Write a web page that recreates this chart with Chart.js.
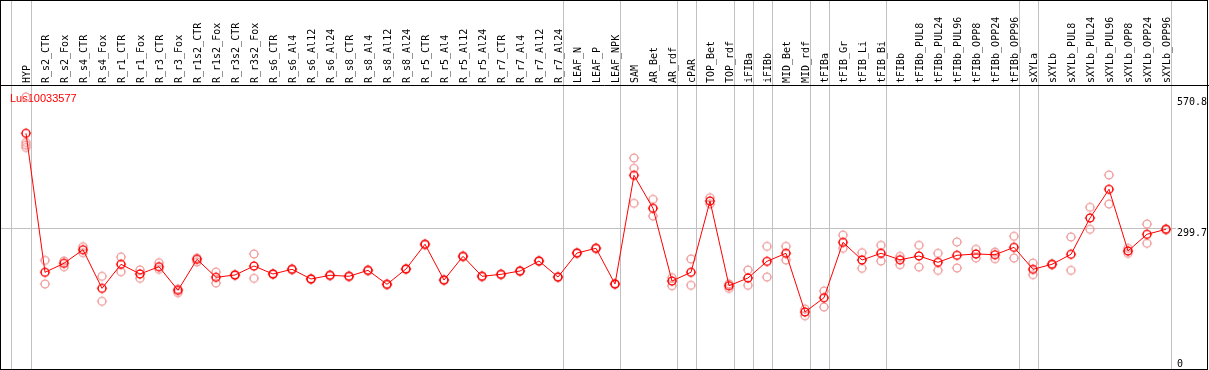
<!DOCTYPE html>
<html><head><meta charset="utf-8">
<script src="https://cdn.jsdelivr.net/npm/chart.js@4"></script>
<style>html,body{margin:0;padding:0;background:#fff}#wrap{width:1209px;height:370px}</style>
</head><body><div id="wrap"><canvas id="c" width="1209" height="370"></canvas></div>
<script>
const title = 'Lus10033577';
const categories = ['HYP','R_s2_CTR','R_s2_Fox','R_s4_CTR','R_s4_Fox','R_r1_CTR','R_r1_Fox','R_r3_CTR','R_r3_Fox','R_r1s2_CTR','R_r1s2_Fox','R_r3s2_CTR','R_r3s2_Fox','R_s6_CTR','R_s6_Al4','R_s6_Al12','R_s6_Al24','R_s8_CTR','R_s8_Al4','R_s8_Al12','R_s8_Al24','R_r5_CTR','R_r5_Al4','R_r5_Al12','R_r5_Al24','R_r7_CTR','R_r7_Al4','R_r7_Al12','R_r7_Al24','LEAF_N','LEAF_P','LEAF_NPK','SAM','AR_Bet','AR_rdf','cPAR','TOP_Bet','TOP_rdf','iFIBa','iFIBb','MID_Bet','MID_rdf','tFIBa','tFIB_Gr','tFIB_Li','tFIB_Bi','tFIBb','tFIBb_PUL8','tFIBb_PUL24','tFIBb_PUL96','tFIBb_OPP8','tFIBb_OPP24','tFIBb_OPP96','sXYLa','sXYLb','sXYLb_PUL8','sXYLb_PUL24','sXYLb_PUL96','sXYLb_OPP8','sXYLb_OPP24','sXYLb_OPP96'];
const meanValues = [491.7,188.9,208.5,238.1,154.0,206.3,185.2,201.1,149.7,217.2,178.0,183.0,202.6,185.2,195.4,174.3,182.4,180.2,193.2,162.7,196.1,249.9,172.1,223.7,180.2,184.5,191.7,213.5,178.6,230.9,241.2,163.4,400.2,328.3,169.9,188.9,344.2,159.7,176.5,212.8,230.3,102.4,133.5,254.2,215.7,230.3,216.1,224.4,210.7,225.9,228.8,227.2,243.3,195.4,206.3,228.1,307.2,369.7,235.3,271.7,282.6];
const rep1 = [570.8,215.0,213.5,244.7,180.2,222.2,193.9,209.8,152.5,220.0,189.5,184.0,228.8,186.2,196.5,175.3,183.4,181.2,194.2,163.7,197.1,250.9,173.1,224.7,181.2,185.5,192.7,214.5,179.6,231.9,242.2,164.4,437.9,347.9,177.1,217.9,351.4,163.4,193.9,245.5,245.5,108.9,148.1,270.1,231.6,247.7,223.7,247.7,230.3,254.9,239.0,233.1,267.3,209.1,207.5,265.8,330.5,400.9,241.2,294.1,283.5];
const rep2 = [471.7,163.4,201.1,231.6,125.7,190.2,175.8,195.4,144.4,211.3,165.6,182.0,175.8,184.2,194.3,173.3,181.4,179.2,192.2,161.7,195.1,248.9,171.1,222.7,179.2,183.5,190.7,212.5,177.6,229.9,240.2,162.4,415.5,311.5,159.7,160.6,337.7,154.0,160.6,178.6,215.7,94.3,113.3,241.2,197.6,213.5,205.4,200.4,193.2,198.3,220.0,218.5,220.0,183.7,205.1,193.2,282.6,337.7,230.3,252.1,281.7];
const rep3 = categories.map(c => ({HYP:466.2, SAM:339.2})[c] ?? null);
const rep4 = categories.map(c => ({HYP:460.8})[c] ?? null);
const yMax = 570.8;
const yTickLabels = ['0','299.7','570.8'];
const groupEnds = ['HYP','R_r7_Al24','LEAF_NPK','AR_rdf','cPAR','TOP_rdf','iFIBa','iFIBb','MID_rdf','tFIBa','tFIB_Bi','tFIBb_OPP96','sXYLa','sXYLb_OPP96'];

function marker(color){
  const c=document.createElement('canvas'); c.width=c.height=14;
  const g=c.getContext('2d'); g.strokeStyle=color;
  g.lineWidth=1.4; g.beginPath(); g.arc(7,7,3.9,0,Math.PI*2); g.stroke();
  g.lineWidth=1; g.beginPath();
  g.moveTo(7,1.8);g.lineTo(7,3); g.moveTo(7,11);g.lineTo(7,12.2);
  g.moveTo(1.8,7);g.lineTo(3,7); g.moveTo(11,7);g.lineTo(12.2,7); g.stroke();
  return c;
}
const redMark = marker('#ff0000'), pinkMark = marker('#f0a0a0');
const toPts = arr => arr.map((v,i)=>v==null?null:{x:i,y:v}).filter(p=>p);

const decor = {
  id:'decor',
  beforeDraw(chart){
    const ctx=chart.ctx, xs=chart.scales.x, W=chart.width, H=chart.height;
    ctx.save();
    ctx.fillStyle='#fff'; ctx.fillRect(0,0,W,H);
    const step = xs.getPixelForValue(1)-xs.getPixelForValue(0);
    ctx.strokeStyle='#c0c0c0'; ctx.lineWidth=1;
    const seps=[Math.round(xs.getPixelForValue(0)-step*15/19)];
    groupEnds.forEach(n=>seps.push(Math.round(xs.getPixelForValue(categories.indexOf(n))+step*5/19)));
    seps.forEach(x=>{ctx.beginPath();ctx.moveTo(x+0.5,0);ctx.lineTo(x+0.5,H);ctx.stroke();});
    const top=chart.chartArea.top, bot=chart.chartArea.bottom;
    const tickPix = yTickLabels.map((_,i)=>Math.round(bot+(top-bot)*i/(yTickLabels.length-1)));
    ctx.beginPath(); ctx.moveTo(0,tickPix[1]+0.5); ctx.lineTo(1176,tickPix[1]+0.5); ctx.stroke();
    ctx.strokeStyle='#000'; ctx.beginPath(); ctx.moveTo(0,85.5); ctx.lineTo(W,85.5); ctx.stroke();
    ctx.fillStyle='#000'; ctx.font='10px "DejaVu Sans Mono"'; ctx.textAlign='left'; ctx.textBaseline='alphabetic';
    categories.forEach((c,i)=>{
      const x=xs.getPixelForValue(i);
      ctx.save(); ctx.translate(Math.round(x)+4,83); ctx.rotate(-Math.PI/2); ctx.fillText(c,0,0); ctx.restore();
    });
    ctx.textBaseline='top';
    yTickLabels.forEach((t,i)=>ctx.fillText(t,1177,tickPix[i]));
    ctx.fillStyle='#ff0000'; ctx.font='11px "Liberation Sans"'; ctx.textBaseline='alphabetic';
    ctx.fillText(title,10,102);
    ctx.restore();
  },
  afterDraw(chart){
    const ctx=chart.ctx; ctx.save(); ctx.strokeStyle='#000'; ctx.lineWidth=1;
    ctx.strokeRect(0.5,0.5,1207,369); ctx.restore();
  }
};

const repDs = (arr)=>({data:toPts(arr), showLine:false, pointStyle:pinkMark, pointRadius:5, clip:false, borderColor:'#f0a0a0'});
new Chart(document.getElementById('c'),{
  type:'line',
  data:{datasets:[
    {data:toPts(meanValues), borderColor:'#ff0000', borderWidth:1, tension:0, pointStyle:redMark, pointRadius:5, clip:false},
    repDs(rep1), repDs(rep2), repDs(rep3), repDs(rep4)
  ]},
  options:{
    responsive:false, animation:false, devicePixelRatio:1,
    layout:{padding:{left:26,right:43,top:97,bottom:11}},
    plugins:{legend:{display:false}, tooltip:{enabled:false}},
    scales:{
      x:{type:'linear', min:0, max:categories.length-1, display:false},
      y:{type:'linear', min:0, max:yMax, display:false}
    }
  },
  plugins:[decor]
});
</script>
</body></html>
